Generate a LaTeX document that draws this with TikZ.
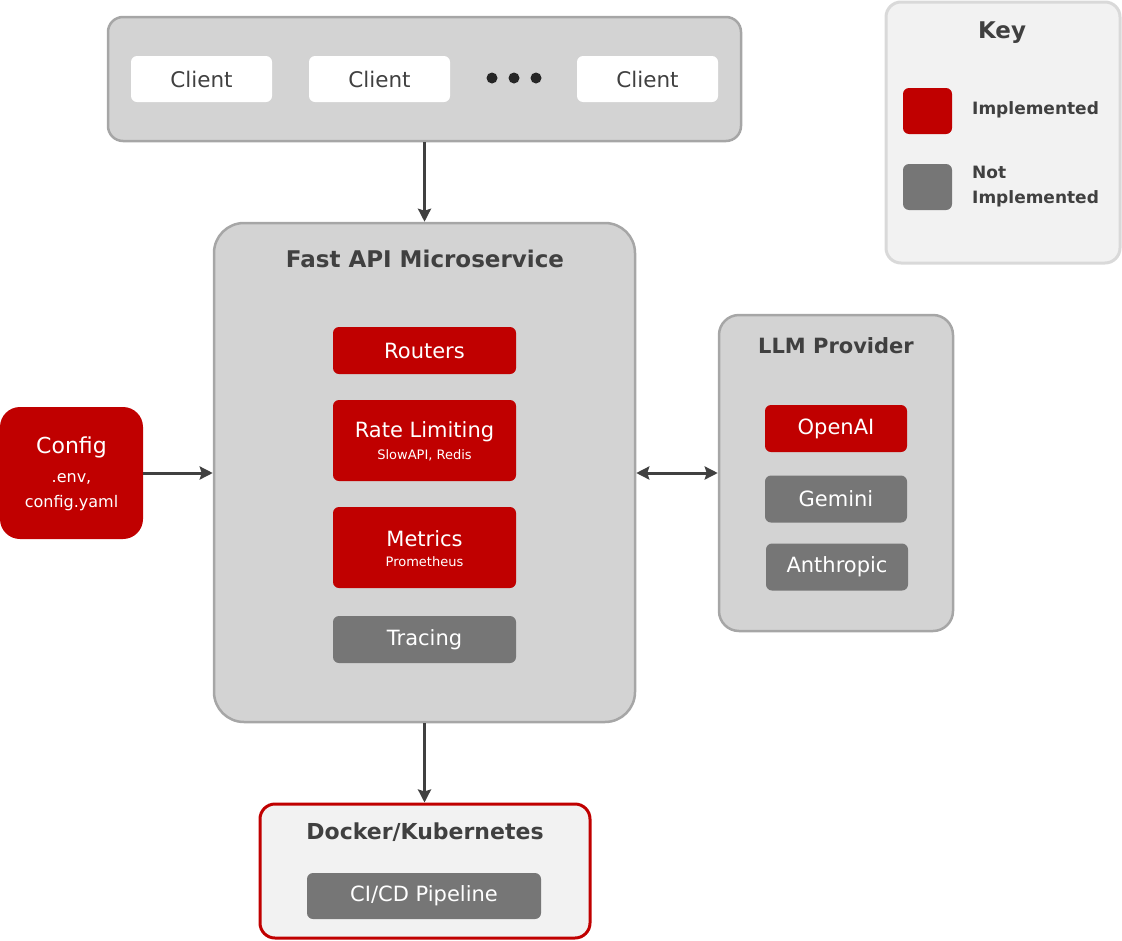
\documentclass[tikz,border=0pt]{standalone}
\usepackage{fontspec}
\setmainfont{DejaVu Sans}
\usetikzlibrary{arrows.meta}

\definecolor{implred}{HTML}{C00000}
\definecolor{notimpl}{HTML}{767676}
\definecolor{panelfill}{HTML}{D3D3D3}
\definecolor{panelline}{HTML}{A6A6A6}
\definecolor{lightfill}{HTML}{F2F2F2}
\definecolor{keyline}{HTML}{D9D9D9}
\definecolor{ink}{HTML}{404040}

\tikzset{
    panel/.style={draw=panelline, fill=panelfill, line width=2.5pt, rounded corners=#1, inner sep=0pt},
    panel/.default=15pt,
    comp/.style={fill=#1, text=white, rounded corners=6pt, inner sep=0pt,
        minimum width=183pt, minimum height=47pt, font=\fontsize{21}{24}\selectfont},
    clientbox/.style={fill=white, text=ink, rounded corners=6pt, inner sep=0pt,
        minimum width=141pt, minimum height=46pt, font=\fontsize{21.5}{24}\selectfont},
    title/.style={text=ink, inner sep=0pt, font=\fontsize{#1}{28}\bfseries\selectfont},
    title/.default=22,
    subtext/.style={text=white, inner sep=0pt, font=\fontsize{13}{15}\selectfont},
    keytext/.style={text=ink, inner sep=0pt, align=left, anchor=west, font=\fontsize{17}{25}\bfseries\selectfont},
    conn/.style={draw=ink, line width=3pt, -{Stealth[length=13pt,width=13pt,inset=2pt]}},
}

\begin{document}
\begin{tikzpicture}[x=1pt,y=-1pt]
    \useasboundingbox (0,0) rectangle (1122,940);

    % clients
    \node[panel, minimum width=633pt, minimum height=124pt] (clients) at (424.5,79) {};
        \node[clientbox] (client1) at (201.5,79) {Client};
        \node[clientbox] (client2) at (379.5,79) {Client};
        \node[clientbox] (client3) at (647.5,79) {Client};
        \foreach \x in {492,514,536}
            \fill[black!85] (\x,78) circle (5.5pt);

    % key
    \node[draw=keyline, fill=lightfill, line width=3pt, rounded corners=15pt,
          minimum width=234pt, minimum height=261pt] (key) at (1003,132.5) {};
        \node[title=23] (keytitle) at (1002,33) {Key};
        \node[fill=implred, rounded corners=6pt, minimum width=49pt, minimum height=46pt] (keyimpl) at (927.5,111) {};
        \node[fill=notimpl, rounded corners=6pt, minimum width=49pt, minimum height=46pt] (keynot) at (927.5,187) {};
        \node[keytext] (keyimpltext) at (972,110) {Implemented};
        \node[keytext] (keynottext) at (972,186.5) {Not\\Implemented};

    % fast api
    \node[panel=30pt, minimum width=421pt, minimum height=499pt] (fastapi) at (424.5,472.5) {};
        \node[title=23] (fastapititle) at (425,259) {Fast API Microservice};
        \node[comp=implred] (routers) at (424.5,350.5) {Routers};
        \node[comp=implred, minimum height=81pt] (rate) at (424.5,440.5) {};
            \node[text=white, inner sep=0pt, font=\fontsize{21}{24}\selectfont] at (424.5,432) {Rate Limiting};
            \node[subtext] at (424.5,455) {SlowAPI, Redis};
        \node[comp=implred, minimum height=81pt] (metrics) at (424.5,547.5) {};
            \node[text=white, inner sep=0pt, font=\fontsize{21}{24}\selectfont] at (424.5,539) {Metrics};
            \node[subtext] at (424.5,562) {Prometheus};
        \node[comp=notimpl] (tracing) at (424.5,639.5) {Tracing};

    % config
    \node[fill=implred, rounded corners=20pt, minimum width=143pt, minimum height=132pt] (config) at (71.5,473) {};
        \node[text=white, inner sep=0pt, font=\fontsize{22}{26}\selectfont] at (71.5,447) {Config};
        \node[text=white, inner sep=0pt, font=\fontsize{16}{20}\selectfont] at (71.5,479) {.env,};
        \node[text=white, inner sep=0pt, font=\fontsize{16}{20}\selectfont] at (71.5,503) {config.yaml};

    % llm provider
    \node[panel=20pt, minimum width=234pt, minimum height=316pt] (llm) at (836,473) {};
        \node[title=21] (llmtitle) at (836,346) {LLM Provider};
        \node[comp=implred, minimum width=142pt] (openai) at (836,428.5) {OpenAI};
        \node[comp=notimpl, minimum width=142pt] (gemini) at (836,499) {Gemini};
        \node[comp=notimpl, minimum width=142pt] (anthropic) at (837,567) {Anthropic};

    % docker
    \node[draw=implred, fill=lightfill, line width=3pt, rounded corners=15pt,
          minimum width=330pt, minimum height=134pt] (docker) at (425,871) {};
        \node[title] (dockertitle) at (425,832) {Docker/Kubernetes};
        \node[comp=notimpl, minimum width=234pt, minimum height=46pt] (cicd) at (424,896) {CI/CD Pipeline};

    % connectors
    \draw[conn] (clients) -- (fastapi);
    \draw[conn] (config.east) -- (config.east -| fastapi.west);
    \draw[conn, {Stealth[length=13pt,width=13pt,inset=2pt]}-{Stealth[length=13pt,width=13pt,inset=2pt]}]
        (fastapi.east |- llm.west) -- (llm.west);
    \draw[conn] (fastapi.south) -- (fastapi.south |- docker.north);
\end{tikzpicture}
\end{document}
